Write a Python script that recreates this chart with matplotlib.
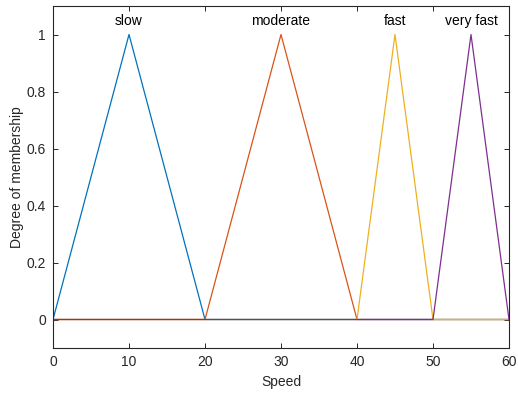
import matplotlib
matplotlib.use('Agg')
import matplotlib.pyplot as plt
import numpy as np

plt.rcParams['font.family'] = ['Liberation Sans', 'DejaVu Sans']

# triangular membership functions [a, b, c] on speed range 0..60
names = ['slow', 'moderate', 'fast', 'very fast']
params = [[0, 10, 20], [20, 30, 40], [40, 45, 50], [50, 55, 60]]
colors = ['#0072BD', '#D95319', '#EDB120', '#7E2F8E']
x_range = [0, 60]

fig = plt.figure(figsize=(5.18, 3.93), dpi=100)
ax = fig.add_axes([53 / 518, 1 - 348 / 393, 456 / 518, 342 / 393])

x = np.linspace(x_range[0], x_range[1], 1201)
for name, p, c in zip(names, params, colors):
    a, b, cc = p
    y = np.clip(np.minimum((x - a) / (b - a), (cc - x) / (cc - b)), 0, 1)
    ax.plot(x, y, color=c, lw=0.9)
    ax.text(b, 1.047, name, ha='center', va='center', fontsize=10, color='black')

ax.set_xlim(x_range)
ax.set_ylim(-0.1, 1.1)
ax.set_xticks(range(0, 61, 10))
ax.set_yticks([0, 0.2, 0.4, 0.6, 0.8, 1])
ax.set_yticklabels(['0', '0.2', '0.4', '0.6', '0.8', '1'])
ax.set_xlabel('Speed', fontsize=10, color='#262626', labelpad=4.5)
ax.set_ylabel('Degree of membership', fontsize=10, color='#262626', labelpad=1.8)
ax.tick_params(direction='in', length=3.5, width=0.7, top=True, right=True,
               labelsize=10, colors='#262626', pad=5)
for s in ax.spines.values():
    s.set_color('#262626')
    s.set_linewidth(0.8)

fig.savefig('out.png', dpi=100)
